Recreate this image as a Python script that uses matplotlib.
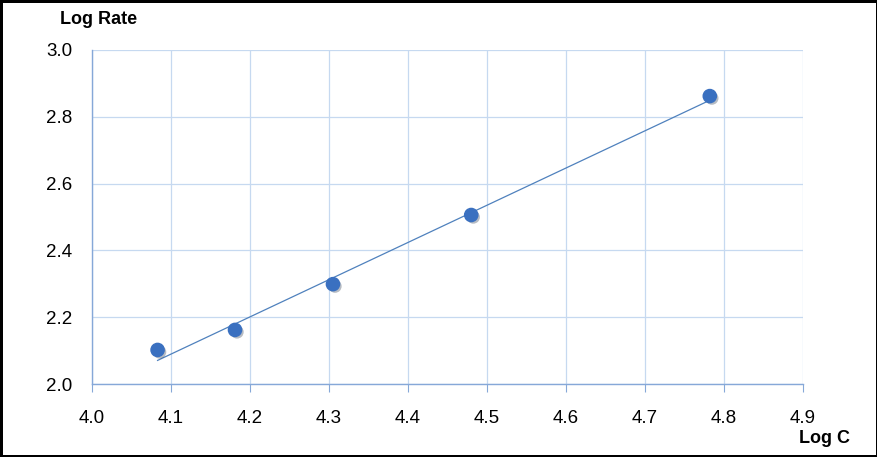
import numpy as np
import matplotlib.pyplot as plt
import matplotlib.patheffects as pe

# DATA
log_c = [4.083, 4.181, 4.305, 4.480, 4.782]
log_rate = [2.102, 2.162, 2.299, 2.506, 2.862]
x_ticks = [4.0, 4.1, 4.2, 4.3, 4.4, 4.5, 4.6, 4.7, 4.8, 4.9]
y_ticks = [2.0, 2.2, 2.4, 2.6, 2.8, 3.0]

plt.rcParams['font.family'] = ['Liberation Sans', 'DejaVu Sans']

fig = plt.figure(figsize=(8.78, 4.57), dpi=100)
fig.patch.set_edgecolor('black')
fig.patch.set_linewidth(3.5)
ax = fig.add_axes([0.1048, 0.1597, 0.8098, 0.7309])

# linear trend line
slope, intercept = np.polyfit(log_c, log_rate, 1)
xs = np.array([min(log_c), max(log_c)])
ax.plot(xs, slope * xs + intercept, color='#4f81bd', linewidth=0.9, zorder=3)

ax.plot(log_c, log_rate, 'o', color='#3a70c0', markersize=9.5, zorder=4,
        path_effects=[pe.SimplePatchShadow(offset=(1.5, -1.5), alpha=0.3),
                      pe.Normal()])

ax.set_xlim(4.0, 4.9)
ax.set_ylim(2.0, 3.0)
ax.set_xticks(x_ticks)
ax.set_yticks(y_ticks)
ax.set_xticklabels([f"{v:.1f}" for v in x_ticks], fontsize=13.5)
ax.set_yticklabels([f"{v:.1f}" for v in y_ticks], fontsize=13.5)
ax.grid(True, color='#c6d9f0', linewidth=0.9)
ax.set_axisbelow(True)

for s in ['top', 'right']:
    ax.spines[s].set_visible(False)
for s in ['bottom', 'left']:
    ax.spines[s].set_color('#86a8d8')
    ax.spines[s].set_linewidth(1)
ax.tick_params(axis='x', length=6, color='#86a8d8', pad=12.5)
ax.tick_params(axis='y', length=0, pad=14)

fig.text(0.068, 0.958, "Log Rate", fontsize=13, fontweight='bold', ha='left', va='center')
fig.text(0.968, 0.04, "Log C", fontsize=13, fontweight='bold', ha='right', va='center')

fig.savefig('out.png', dpi=100)
